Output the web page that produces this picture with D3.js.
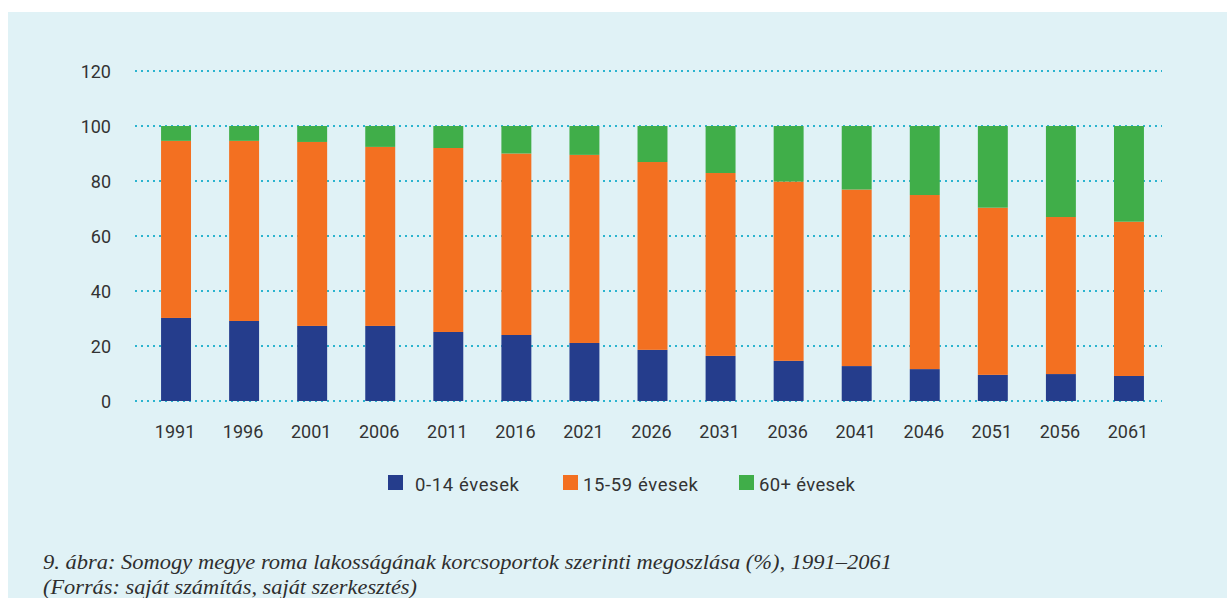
<!DOCTYPE html>
<html><head><meta charset="utf-8">
<script src="https://cdn.jsdelivr.net/npm/d3@7"></script>
<style>
html,body{margin:0;padding:0;background:#fff;}
svg{display:block;}
</style></head>
<body>
<svg id="chart" width="1227" height="598"></svg>
<script>
const years = ["1991","1996","2001","2006","2011","2016","2021","2026","2031","2036","2041","2046","2051","2056","2061"];
const seriesNames = ["0-14 évesek","15-59 évesek","60+ évesek"];
const young  = [30.2, 29.1, 27.3, 27.3, 25.1, 24.0, 21.1, 18.6, 16.4, 14.6, 12.7, 11.6, 9.5, 9.8, 9.1];
const middle = [64.4, 65.5, 66.9, 65.1, 66.9, 66.0, 68.4, 68.3, 66.5, 65.2, 64.2, 63.3, 60.8, 57.1, 56.1];
const old    = [5.4, 5.4, 5.8, 7.6, 8.0, 10.0, 10.5, 13.1, 17.1, 20.2, 23.1, 25.1, 29.7, 33.1, 34.8];
const yTicks = [0, 20, 40, 60, 80, 100, 120];
const captionLines = ["9. ábra: Somogy megye roma lakosságának korcsoportok szerinti megoszlása (%), 1991–2061",
                      "(Forrás: saját számítás, saját szerkesztés)"];
const colors = ["#253d8c", "#f37021", "#40ae49"];

const svg = d3.select("#chart");
const sansFont = "Roboto, 'DejaVu Sans Condensed', sans-serif";

svg.append("rect").attr("x", 8).attr("y", 12).attr("width", 1219).attr("height", 586).attr("fill", "#e0f2f6");

const x = d3.scaleBand().domain(years).range([142, 1163]).paddingInner(0.56).paddingOuter(0.28);
const y = d3.scaleLinear().domain([0, 120]).range([401, 71]);

// grid
svg.append("g").selectAll("line").data(yTicks).join("line")
  .attr("x1", 135).attr("x2", 1162)
  .attr("y1", d => y(d)).attr("y2", d => y(d))
  .attr("stroke", "#2bb4cf").attr("stroke-width", 2).attr("stroke-dasharray", "2,4");

// y axis
const yAxis = d3.axisLeft(y).tickValues(yTicks).tickSize(0).tickPadding(0);
const gy = svg.append("g").attr("transform", "translate(111,0)").call(yAxis);
gy.select(".domain").remove();
gy.selectAll("text").attr("font-family", sansFont).attr("font-size", 18).attr("fill", "#333")
  .attr("dy", "0.36em");

// stacked data
const rows = years.map((yr, i) => ({year: yr, a: young[i], b: middle[i], c: old[i]}));
const stack = d3.stack().keys(["a", "b", "c"]);
const stacked = stack(rows);

svg.append("g").selectAll("g").data(stacked).join("g")
  .attr("fill", (d, i) => colors[i])
  .selectAll("rect").data(d => d).join("rect")
  .attr("x", d => x(d.data.year))
  .attr("width", x.bandwidth())
  .attr("y", d => y(d[1]))
  .attr("height", d => y(d[0]) - y(d[1]));

// x axis
const xAxis = d3.axisBottom(x).tickSize(0).tickPadding(0);
const gx = svg.append("g").attr("transform", "translate(-1,438)").call(xAxis);
gx.select(".domain").remove();
gx.selectAll("text").attr("font-family", sansFont).attr("font-size", 18).attr("fill", "#333").attr("dy", 0);

// legend
const legendX = [388, 563, 739];
const legendLen = [104, 115, 96];
const lg = svg.append("g").selectAll("g").data(seriesNames).join("g")
  .attr("transform", (d, i) => `translate(${legendX[i]},475)`);
lg.append("rect").attr("width", 15).attr("height", 15).attr("fill", (d, i) => colors[i]);
lg.append("text").attr("x", (d, i) => i === 0 ? 27 : 20).attr("y", 15.5)
  .attr("font-family", sansFont).attr("font-size", 18.5).attr("fill", "#333")
  .attr("textLength", (d, i) => legendLen[i]).attr("lengthAdjust", "spacing")
  .text(d => d);

// caption
const capLen = [849, 374];
svg.append("g").selectAll("text").data(captionLines).join("text")
  .attr("x", 43).attr("y", (d, i) => 569 + i * 25)
  .attr("font-family", "'Liberation Serif', 'DejaVu Serif', serif").attr("font-style", "italic")
  .attr("font-size", 21).attr("fill", "#2e2e2e")
  .attr("textLength", (d, i) => capLen[i])
  .attr("lengthAdjust", "spacingAndGlyphs")
  .text(d => d);
</script>
</body></html>
